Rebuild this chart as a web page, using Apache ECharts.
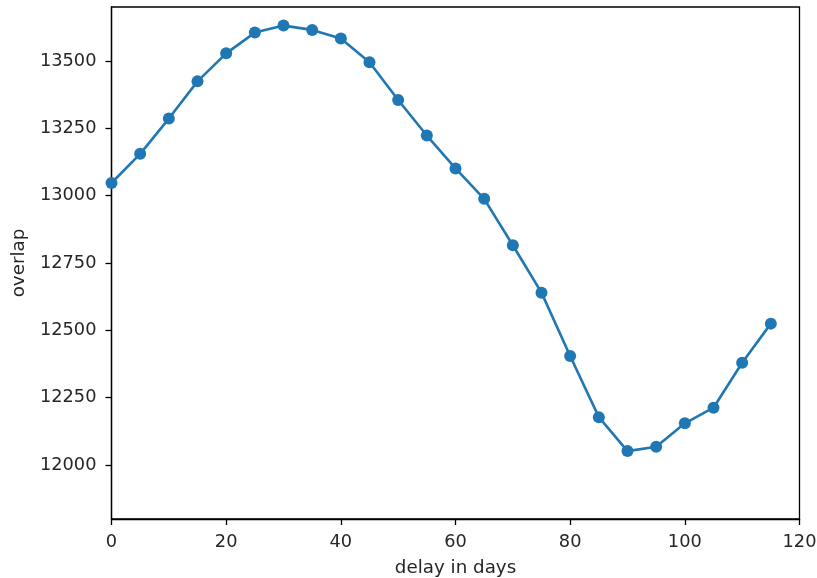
<!DOCTYPE html>
<html>
<head>
<meta charset="utf-8">
<script src="https://cdn.jsdelivr.net/npm/echarts@6/dist/echarts.min.js"></script>
<style>
  html, body { margin: 0; padding: 0; background: #fff; }
  #chart { width: 817px; height: 578px; }
</style>
</head>
<body>
<div id="chart"></div>
<script>
// Delay (days) against overlap
const delays = [0, 5, 10, 15, 20, 25, 30, 35, 40, 45, 50, 55, 60, 65, 70, 75, 80, 85, 90, 95, 100, 105, 110, 115];
const overlap = [13047, 13155, 13286, 13424, 13528, 13605, 13631, 13615, 13583, 13495, 13355, 13223,
                 13101, 12988, 12816, 12640, 12405, 12178, 12052, 12068, 12155, 12213, 12380, 12525];
const xTicks = [0, 20, 40, 60, 80, 100, 120];
const yTicks = [12000, 12250, 12500, 12750, 13000, 13250, 13500];

const font = 'DejaVu Sans';
const textColor = '#262626';
const fontSize = 17.8;

const chart = echarts.init(document.getElementById('chart'), null, { renderer: 'canvas' });

chart.setOption({
  animation: false,
  backgroundColor: '#ffffff',
  grid: {
    left: 111.5, right: 17.5, top: 7, bottom: 59,
    containLabel: false, outerBoundsMode: 'none',
    show: true, borderColor: '#000', borderWidth: 1.3, backgroundColor: 'transparent'
  },
  xAxis: {
    type: 'value',
    min: xTicks[0], max: xTicks[xTicks.length - 1], interval: 20,
    name: 'delay in days', nameLocation: 'middle', nameGap: 40,
    nameTextStyle: { fontFamily: font, fontSize: 18.3, color: textColor },
    axisLine: { show: true, lineStyle: { color: '#000', width: 1.3 } },
    axisTick: { show: true, inside: false, length: 6, lineStyle: { color: '#000', width: 1.3 } },
    axisLabel: { margin: 14, fontFamily: font, fontSize: fontSize, color: textColor },
    splitLine: { show: false }
  },
  yAxis: {
    type: 'value',
    min: 11800, max: 13700,
    name: 'overlap', nameLocation: 'middle', nameGap: 83, nameRotate: 90,
    nameTextStyle: { fontFamily: font, fontSize: 18.3, color: textColor },
    axisLine: { show: true, lineStyle: { color: '#000', width: 1.3 } },
    axisTick: { show: true, inside: false, length: 6, lineStyle: { color: '#000', width: 1.3 },
                customValues: yTicks },
    axisLabel: { margin: 15, fontFamily: font, fontSize: fontSize, color: textColor,
                 customValues: yTicks, formatter: v => String(v) },
    splitLine: { show: false }
  },
  series: [{
    type: 'line',
    data: delays.map((d, i) => [d, overlap[i]]),
    symbol: 'circle',
    symbolSize: 12,
    showAllSymbol: true,
    clip: false,
    lineStyle: { color: '#1f77b4', width: 2.6 },
    itemStyle: { color: '#1f77b4', borderWidth: 0 }
  }]
});
</script>
</body>
</html>
